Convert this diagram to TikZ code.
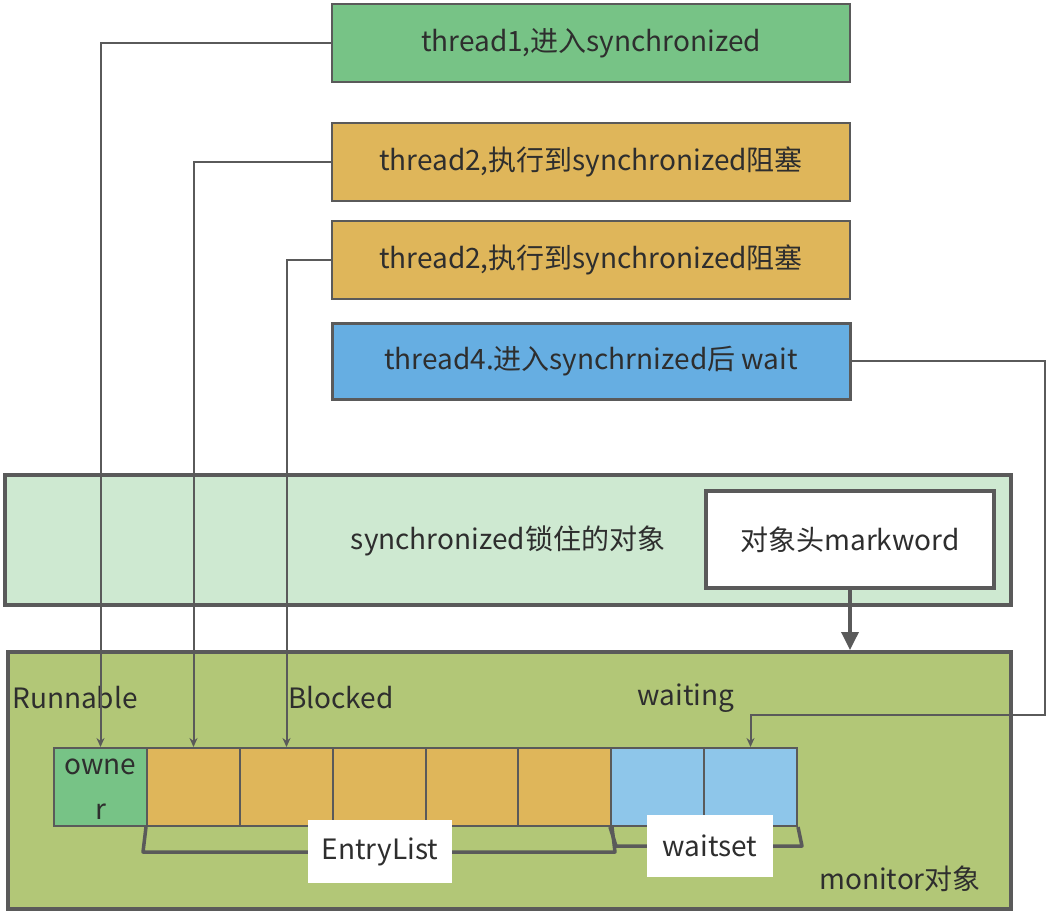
\documentclass[tikz,border=0pt]{standalone}
\usepackage{fontspec}
\setmainfont{Noto Sans CJK SC}
\usepackage{tikz}
\usetikzlibrary{arrows.meta}

\definecolor{edgegray}{HTML}{5A5A5A}
\definecolor{textgray}{HTML}{2E2E2E}
\definecolor{runGreen}{HTML}{77C386}
\definecolor{blockOrange}{HTML}{DFB65A}
\definecolor{waitBlue}{HTML}{66AEE2}
\definecolor{cellBlue}{HTML}{8EC6EA}
\definecolor{objGreen}{HTML}{CEE9D1}
\definecolor{monGreen}{HTML}{B2C777}

\begin{document}
\begin{tikzpicture}[x=1pt, y=-1pt,
  every node/.style = {text=textgray, font=\fontsize{28}{45}\selectfont,
                       inner sep=0pt},
  thread/.style = {draw=edgegray, line width=1.5pt, minimum width=518pt,
                   minimum height=78pt},
  bigbox/.style = {draw=edgegray, line width=4pt},
  cell/.style = {draw=edgegray, line width=2pt, minimum width=93pt,
                 minimum height=78pt},
  flow/.style = {draw=edgegray, line width=2pt,
                 -{Stealth[length=9pt, width=8pt]}},
  brace/.style = {draw=edgegray, line width=3.5pt, line join=round},
  tag/.style = {fill=white, minimum height=63pt}]
\useasboundingbox (0,0) rectangle (1049,913);

\node[thread, fill=runGreen] (t1) at (591,43) {thread1,进入synchronized};
\node[thread, fill=blockOrange] (t2) at (591,162) {thread2,执行到synchronized阻塞};
\node[thread, fill=blockOrange] (t3) at (591,260) {thread2,执行到synchronized阻塞};
\node[thread, fill=waitBlue, line width=3pt, minimum height=76pt] (t4) at (591,361)
  {thread4.进入synchrnized后 wait};

\node[bigbox, fill=objGreen, minimum width=1006pt, minimum height=130pt] (obj) at (508,540) {};
\node (objtext) at (508,541) {synchronized锁住的对象};
\node[bigbox, fill=white, minimum width=288pt, minimum height=97pt] (mark) at (850,539.5)
  {对象头markword};

\node[bigbox, fill=monGreen, minimum width=1003pt, minimum height=257pt] (mon) at (509.5,780.5) {};
\node (run) at (75,698) {Runnable};
\node (blk) at (341,698) {Blocked};
\node (wtg) at (686,698) {waiting};
\node (montext) at (900,879) {monitor对象};

\node[cell, fill=runGreen] (c0) at (100.5,787) {};
\node[align=center] (owner) at (100.5,789) {owne\\r};
\foreach \i/\x in {1/193.5, 2/286.5, 3/379.5, 4/472, 5/564.5}
  \node[cell, fill=blockOrange] (c\i) at (\x,787) {};
\node[cell, fill=cellBlue] (w1) at (657.5,787) {};
\node[cell, fill=cellBlue] (w2) at (750.5,787) {};

\draw[brace] (c1.south west) -- ([shift={(-3,25)}]c1.south west)
  -- ([shift={(3,25)}]c5.south east) -- (c5.south east);
\draw[brace] (w1.south west) -- ([shift={(6,19)}]w1.south west)
  -- ([shift={(4,19)}]w2.south east) -- (w2.south east);
\node[tag, minimum width=144pt] (entry) at (380,851.5) {EntryList};
\node[tag, minimum width=126pt, minimum height=62pt] (wset) at (710,846) {waitset};

\coordinate (turn) at (1045,715);
\draw[flow] (t1.west) -| (c0.north);
\draw[flow] (t2.west) -| (c1.north);
\draw[flow] (t3.west) -| (c2.north);
\draw[flow] (t4.east) -| (turn) -| (w2.north);

\draw[edgegray, line width=3.5pt, -{Triangle[length=18pt, width=17pt]}]
  (mark.south) -- (mon.north -| mark.south);

\end{tikzpicture}
\end{document}
